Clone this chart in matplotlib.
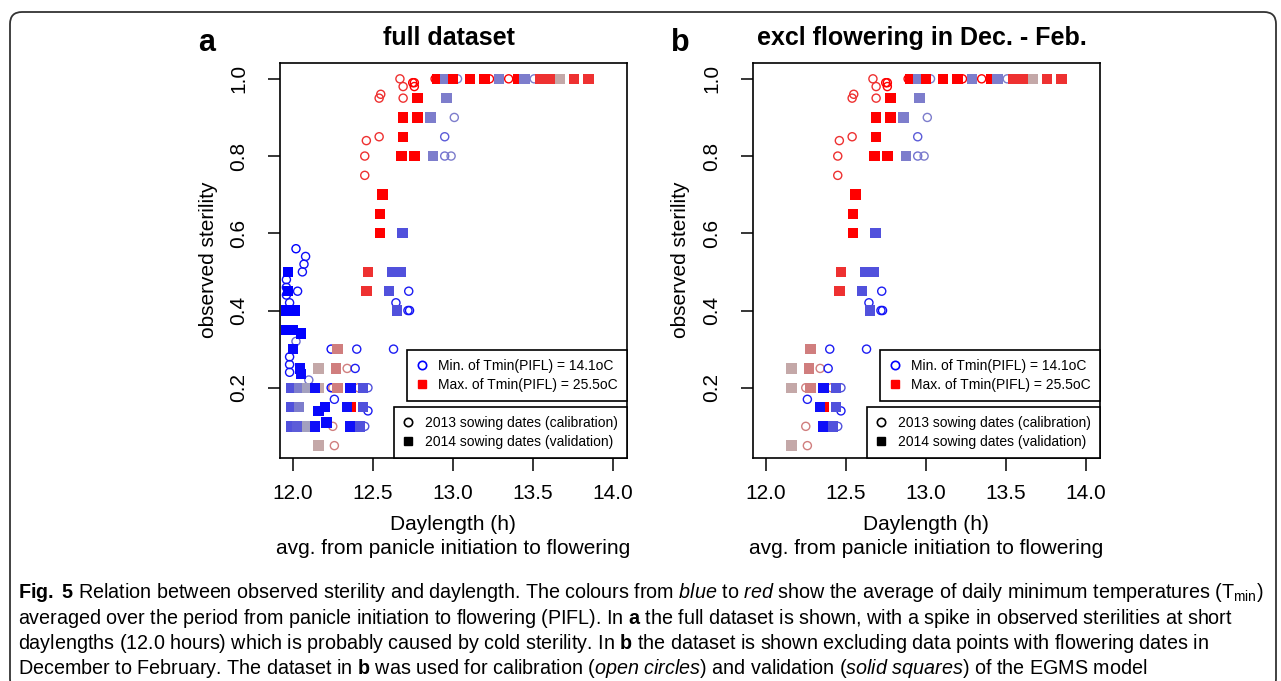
#===============
#  Sterility vs daylength (Fig. 5)
#===============
import matplotlib
matplotlib.use('Agg')
import matplotlib.pyplot as plt
from matplotlib.colors import LinearSegmentedColormap, Normalize
from matplotlib.lines import Line2D
from matplotlib.patches import FancyBboxPatch
import numpy as np

plt.rcParams['font.family'] = ['Liberation Sans', 'DejaVu Sans']
plt.rcParams['mathtext.fontset'] = 'custom'
plt.rcParams['mathtext.rm'] = 'Liberation Sans'
plt.rcParams['mathtext.it'] = 'Liberation Sans:italic'
plt.rcParams['mathtext.bf'] = 'Liberation Sans:bold'

#=====================
#  Data
#=====================
# 2013 sowing dates (open circles), kept in both panels
c_day = [12.89, 13.03, 13.23, 13.35, 13.51, 12.67, 12.69, 12.75, 12.76, 12.76,
         12.55, 12.54, 12.69, 13.01, 12.46, 12.54, 12.95, 12.45, 12.95, 12.99,
         12.45, 12.725, 12.645, 12.72, 12.73, 12.40, 12.63, 12.34, 12.39, 12.25,
         12.41, 12.47, 12.26, 12.47, 12.25, 12.45, 12.26]
c_ster = [1.00, 1.00, 1.00, 1.00, 1.00, 1.00, 0.98, 0.99, 0.99, 0.98,
          0.96, 0.95, 0.95, 0.90, 0.84, 0.85, 0.85, 0.80, 0.80, 0.80,
          0.75, 0.45, 0.42, 0.40, 0.40, 0.30, 0.30, 0.25, 0.25, 0.20,
          0.20, 0.20, 0.17, 0.14, 0.10, 0.10, 0.05]
c_tmin = [25.5, 18.0, 25.5, 25.5, 18.0, 24.0, 24.0, 25.5, 25.5, 25.5,
          24.0, 24.0, 24.0, 18.0, 24.0, 24.0, 16.5, 24.0, 17.5, 18.0,
          24.0, 14.8, 14.8, 14.8, 14.5, 14.8, 14.8, 22.0, 14.8, 22.0,
          22.0, 16.0, 14.8, 14.8, 22.0, 16.0, 22.0]

# 2013 sowing dates flowering in Dec. - Feb. (only in panel a)
cdf_day = [12.02, 12.08, 12.07, 12.06, 11.96, 11.96, 11.96, 12.03, 11.98, 12.02,
           12.24, 11.98, 11.98, 11.98, 12.10, 12.24]
cdf_ster = [0.56, 0.54, 0.52, 0.50, 0.48, 0.46, 0.44, 0.45, 0.42, 0.32,
            0.30, 0.28, 0.26, 0.24, 0.22, 0.20]
cdf_tmin = [14.1, 14.5, 14.5, 14.5, 14.5, 14.5, 14.5, 14.5, 14.5, 17.0,
            14.5, 14.5, 14.5, 14.5, 17.5, 14.5]

# 2014 sowing dates (solid squares), kept in both panels
s_day = [12.90, 12.95, 13.00, 13.11, 13.20, 13.29, 13.41, 13.45, 13.55, 13.61,
         13.67, 13.76, 13.85, 12.78, 12.96, 12.69, 12.78, 12.86, 12.69, 12.68,
         12.76, 12.875, 12.56, 12.545, 12.545, 12.685, 12.47, 12.62, 12.675, 12.46,
         12.60, 12.65, 12.28, 12.16, 12.27, 12.16, 12.28, 12.36, 12.44, 12.36,
         12.34, 12.44, 12.36, 12.42, 12.16]
s_ster = [1.00, 1.00, 1.00, 1.00, 1.00, 1.00, 1.00, 1.00, 1.00, 1.00,
          1.00, 1.00, 1.00, 0.95, 0.95, 0.90, 0.90, 0.90, 0.85, 0.80,
          0.80, 0.80, 0.70, 0.65, 0.60, 0.60, 0.50, 0.50, 0.50, 0.45,
          0.45, 0.40, 0.30, 0.25, 0.25, 0.20, 0.20, 0.20, 0.20, 0.15,
          0.15, 0.15, 0.10, 0.10, 0.05]
s_tmin = [25.5, 18.0, 25.5, 25.5, 25.5, 18.0, 25.5, 18.0, 24.0, 24.0,
          20.5, 24.0, 24.0, 25.5, 18.0, 25.5, 25.5, 18.0, 25.5, 25.5,
          25.5, 18.0, 25.5, 25.5, 25.5, 16.0, 24.0, 16.0, 16.0, 24.0,
          16.0, 16.0, 22.0, 20.5, 22.0, 20.5, 22.0, 14.5, 16.0, 25.5,
          14.5, 16.0, 14.5, 16.0, 20.5]

# 2014 sowing dates flowering in Dec. - Feb. (only in panel a)
sdf_day = [11.97, 11.97, 11.96, 12.01, 11.96, 12.00, 12.05, 12.00, 12.045, 12.05,
           11.99, 12.04, 12.09, 12.14, 11.99, 12.04, 12.16, 12.20, 11.99, 12.03,
           12.09, 12.14, 12.21]
sdf_ster = [0.50, 0.45, 0.40, 0.40, 0.35, 0.35, 0.34, 0.30, 0.25, 0.235,
            0.20, 0.20, 0.20, 0.20, 0.15, 0.15, 0.14, 0.15, 0.10, 0.10,
            0.10, 0.10, 0.11]
sdf_tmin = [14.1, 14.1, 14.1, 14.1, 14.1, 14.1, 14.1, 14.3, 14.3, 14.3,
            16.0, 18.0, 19.2, 14.5, 16.0, 18.0, 14.3, 14.3, 16.0, 16.5,
            19.2, 14.5, 14.3]

tmin_lo, tmin_hi = 14.1, 25.5
xticks = [12.0, 12.5, 13.0, 13.5, 14.0]
yticks = [0.2, 0.4, 0.6, 0.8, 1.0]

# colour ramp blue -> red for Tmin(PIFL)
cmap = LinearSegmentedColormap.from_list('tmin', [
    (0.0, '#0000ff'), (0.167, '#5252dc'), (0.342, '#7d7dcc'), (0.447, '#a3a0bf'),
    (0.561, '#c4a8a8'), (0.693, '#d07e7e'), (0.868, '#ee3232'), (1.0, '#ff0000')])
norm = Normalize(tmin_lo, tmin_hi)

#=====================
#  Figure
#=====================
fig = plt.figure(figsize=(12.81, 6.81), dpi=100)
fig.patches.append(FancyBboxPatch((0.10, -0.10), 12.66, 6.79,
                                  boxstyle='round,pad=0,rounding_size=0.12',
                                  transform=fig.dpi_scale_trans, fill=False,
                                  edgecolor='#333333', linewidth=1.3))

panels = [
    (280, 'a', 'full dataset', True),
    (753, 'b', 'excl flowering in Dec. - Feb.', False),
]
W, H = 1281., 681.

for left, letter, title, full in panels:
    ax = fig.add_axes([left / W, 1 - 458 / H, 347 / W, 395 / H])

    cx, cy, ct = list(c_day), list(c_ster), list(c_tmin)
    sx, sy, st = list(s_day), list(s_ster), list(s_tmin)
    if full:
        cx += cdf_day; cy += cdf_ster; ct += cdf_tmin
        sx += sdf_day; sy += sdf_ster; st += sdf_tmin

    # open circles first, squares on top
    ax.scatter(cx, cy, s=34, facecolors='none',
               edgecolors=cmap(norm(np.array(ct))), linewidths=1.0)
    ax.scatter(sx, sy, s=56, marker='s', c=st, cmap=cmap, norm=norm,
               linewidths=0)

    ax.set_xlim(11.92, 14.09)
    ax.set_ylim(0.018, 1.041)
    ax.set_xticks(xticks)
    ax.set_xticklabels(['%.1f' % v for v in xticks])
    ax.set_yticks(yticks)
    ax.set_yticklabels(['%.1f' % v for v in yticks], rotation=90, va='center')
    ax.tick_params(labelsize=15, length=9, width=1.1, direction='out')
    ax.tick_params(axis='x', pad=10)
    ax.tick_params(axis='y', pad=14)
    for sp in ax.spines.values():
        sp.set_linewidth(1.2)

    # legends
    leg1 = ax.legend(handles=[
        Line2D([], [], marker='o', ls='none', mfc='none', mec='#0000ff', ms=6, mew=1.2),
        Line2D([], [], marker='s', ls='none', mfc='#ff0000', mec='#ff0000', ms=6)],
        labels=['Min. of Tmin(PIFL) = 14.1oC', 'Max. of Tmin(PIFL) = 25.5oC'],
        loc='lower right', bbox_to_anchor=(1.0, 0.144), borderaxespad=0,
        fancybox=False, framealpha=1, edgecolor='black', fontsize=10,
        handlelength=0.8, handletextpad=0.8, labelspacing=0.35, borderpad=0.65)
    leg1.get_frame().set_linewidth(1.2)
    ax.add_artist(leg1)
    leg2 = ax.legend(handles=[
        Line2D([], [], marker='o', ls='none', mfc='none', mec='black', ms=6, mew=1.2),
        Line2D([], [], marker='s', ls='none', mfc='black', mec='black', ms=6)],
        labels=['2013 sowing dates (calibration)', '2014 sowing dates (validation)'],
        loc='lower right', bbox_to_anchor=(1.0, 0.0), borderaxespad=0,
        fancybox=False, framealpha=1, edgecolor='black', fontsize=10,
        handlelength=0.8, handletextpad=0.8, labelspacing=0.35, borderpad=0.65)
    leg2.get_frame().set_linewidth(1.2)

    mid = left + 173
    fig.text((left - 73) / W, 1 - 43 / H, letter, fontsize=22, fontweight='bold',
             ha='center', va='center')
    fig.text((mid - 4) / W, 1 - 38 / H, title, fontsize=18, fontweight='bold',
             ha='center', va='center')
    fig.text((left - 72) / W, 1 - 260 / H, 'observed sterility', fontsize=15,
             rotation=90, ha='center', va='center')
    fig.text(mid / W, 1 - 525 / H, 'Daylength (h)', fontsize=15,
             ha='center', va='center')
    fig.text(mid / W, 1 - 548 / H, 'avg. from panicle initiation to flowering',
             fontsize=15, ha='center', va='center')

#=====================
#  Caption
#=====================
caption = [
    r'$\mathbf{Fig.}$ $\mathbf{5}$ Relation between observed sterility and daylength. The colours from '
    r'$\mathit{blue}$ to $\mathit{red}$ show the average of daily minimum temperatures (T$_{\mathrm{min}}$)',
    r'averaged over the period from panicle initiation to flowering (PIFL). In $\mathbf{a}$ the full '
    r'dataset is shown, with a spike in observed sterilities at short',
    r'daylengths (12.0 hours) which is probably caused by cold sterility. In $\mathbf{b}$ the dataset '
    r'is shown excluding data points with flowering dates in',
    r'December to February. The dataset in $\mathbf{b}$ was used for calibration '
    r'($\mathit{open\ circles}$) and validation ($\mathit{solid\ squares}$) of the EGMS model',
]
for i, line in enumerate(caption):
    fig.text(18 / W, 1 - (593 + 25.2 * i) / H, line, fontsize=14.2,
             ha='left', va='center')

fig.savefig('out.png', dpi=100)
